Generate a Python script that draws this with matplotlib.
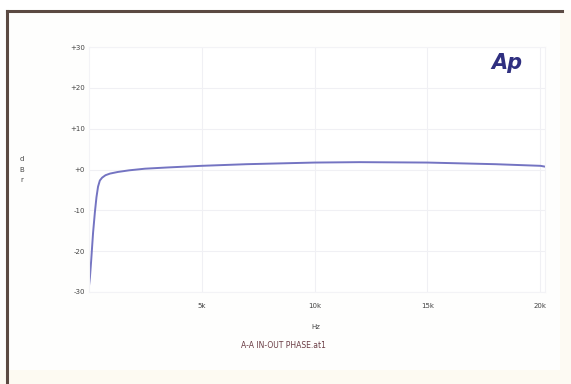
import numpy as np
import matplotlib.pyplot as plt
from matplotlib.patches import Rectangle

# phase sweep, 20 Hz .. 20.2 kHz
freq_hz = [20, 60, 120, 200, 280, 350, 420, 500, 600, 750, 950, 1300,
           1800, 2500, 3500, 5000, 7000, 10000, 12000, 15000, 18000, 20000, 20200]
level_dbr = [-28.5, -26.5, -22.0, -15.5, -10.5, -6.8, -4.2, -2.7, -2.0, -1.4, -1.0, -0.6,
             -0.2, 0.2, 0.5, 0.9, 1.3, 1.7, 1.8, 1.7, 1.3, 0.9, 0.7]

y_ticks = [30, 20, 10, 0, -10, -20, -30]
y_labels = ['+30', '+20', '+10', '+0', '-10', '-20', '-30']
x_ticks = [5000, 10000, 15000, 20000]
x_labels = ['5k', '10k', '15k', '20k']

W, H = 571, 384
fig = plt.figure(figsize=(W / 100, H / 100), dpi=100, facecolor='#fefefd')

# paper edge: faint cream at bottom and right, dark border top and left
fig.patches.append(Rectangle((0, 0), 1, 14 / H, transform=fig.transFigure,
                             facecolor='#fdfaf2', edgecolor='none', zorder=0))
fig.patches.append(Rectangle((560 / W, 0), 11 / W, 1, transform=fig.transFigure,
                             facecolor='#fdfaf3', edgecolor='none', zorder=0))
fig.patches.append(Rectangle((0, 1 - 10 / H), 1, 10 / H, transform=fig.transFigure,
                             facecolor='#ffffff', edgecolor='none', zorder=0))
fig.lines.append(plt.Line2D([7 / W, 562 / W], [1 - 11 / H, 1 - 11 / H],
                            transform=fig.transFigure, color='#5b4a42', lw=2.2))
fig.lines.append(plt.Line2D([7 / W, 7 / W], [0, 1 - 11 / H],
                            transform=fig.transFigure, color='#5b4a42', lw=2.2))

ax = fig.add_axes([89 / W, 1 - 292 / H, (545 - 89) / W, (292 - 47) / H])
ax.set_facecolor('white')
ax.plot(freq_hz, level_dbr, color='#7474c2', lw=1.4)

ax.set_xlim(20, 20200)
ax.set_ylim(-30, 30)
ax.set_xticks(x_ticks)
ax.set_xticklabels(x_labels)
ax.set_yticks(y_ticks)
ax.set_yticklabels(y_labels)
ax.tick_params(length=0, labelsize=5, labelcolor='#444444', pad=3)
ax.tick_params(axis='x', pad=8)
ax.grid(True, color='#f0f0f4', lw=0.8)
for s in ax.spines.values():
    s.set_color('#f3f3f6')
    s.set_linewidth(0.8)

fig.text(316 / W, 1 - 327 / H, 'Hz', fontsize=5, color='#444444', ha='center', va='center')
fig.text(283 / W, 1 - 346 / H, 'A-A IN-OUT PHASE.at1', fontsize=5.5, color='#6a3c44',
         ha='center', va='center')
fig.text(22 / W, 1 - 170 / H, 'd\nB\nr', fontsize=5, color='#444444', ha='center',
         va='center', linespacing=1.9)
fig.text(507 / W, 1 - 63 / H, 'Ap', fontsize=15, color='#2f2f80', fontweight='bold',
         fontstyle='italic', ha='center', va='center')

fig.savefig('out.png', dpi=100, facecolor=fig.get_facecolor())
